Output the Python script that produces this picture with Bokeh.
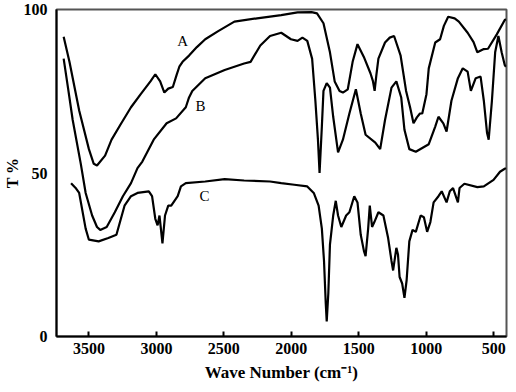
from bokeh.plotting import figure
from bokeh.models import Range1d, FixedTicker
from bokeh.embed import file_html
from bokeh.resources import INLINE
from bokeh.core.properties import value

# Curve A
a_wn = [3687, 3644, 3572, 3500, 3464, 3440, 3380, 3332, 3260, 3188, 3116, 3044, 3008,
        2972, 2941, 2912, 2878, 2850, 2830, 2806, 2758, 2700, 2638, 2542, 2422, 2254,
        2075, 1954, 1850, 1810, 1762, 1714, 1679, 1643, 1618, 1582, 1546, 1510, 1463,
        1414, 1395, 1383, 1370, 1355, 1306, 1271, 1239, 1191, 1150, 1120, 1095, 1070,
        1047, 1030, 999, 982, 934, 898, 870, 838, 790, 759, 694, 650, 622, 574, 543,
        478, 419, 410]
a_t = [91.7, 84.0, 69.1, 57.3, 52.8, 52.3, 55.3, 60.2, 65.2, 70.1, 74.1, 78.0, 80.2,
       78.0, 74.6, 75.8, 76.3, 80.0, 82.5, 84.0, 85.9, 88.5, 90.9, 93.4, 96.3, 97.3,
       98.3, 99.1, 99.2, 98.8, 95.8, 86.9, 78.0, 75.1, 74.6, 75.6, 84.0, 89.4, 85.5,
       80.5, 78.0, 75.1, 80.0, 85.0, 89.9, 91.4, 91.9, 86.0, 75.1, 70.0, 65.2, 67.0,
       68.2, 68.2, 74.1, 82.0, 89.9, 90.9, 95.0, 97.8, 97.3, 96.3, 92.9, 90.0, 86.9,
       87.9, 88.0, 92.4, 96.8, 97.0]

# Curve B
b_wn = [3687, 3655, 3620, 3560, 3524, 3476, 3440, 3416, 3368, 3308, 3248, 3188, 3140,
        3104, 3020, 2924, 2854, 2782, 2758, 2734, 2638, 2494, 2350, 2302, 2230, 2158,
        2075, 2003, 1954, 1918, 1882, 1846, 1822, 1803, 1791, 1774, 1762, 1738, 1714,
        1690, 1654, 1618, 1570, 1522, 1486, 1450, 1378, 1342, 1306, 1258, 1222, 1186,
        1162, 1126, 1078, 982, 934, 910, 874, 850, 814, 766, 730, 694, 670, 634, 598,
        574, 550, 538, 514, 490, 466, 442, 419, 410]
b_t = [85.0, 76.1, 66.2, 52.8, 43.9, 37.0, 33.5, 32.6, 33.5, 38.0, 42.9, 46.9, 51.5,
       53.5, 60.2, 65.2, 66.7, 70.1, 73.1, 75.1, 79.0, 81.5, 83.5, 84.0, 89.0, 91.9,
       92.9, 90.9, 90.4, 91.4, 90.4, 84.9, 72.1, 60.2, 50.0, 64.2, 75.1, 77.5, 76.1,
       67.2, 56.3, 60.2, 68.2, 75.6, 68.2, 61.7, 59.3, 57.3, 66.2, 76.1, 78.0, 73.1,
       63.2, 57.3, 56.5, 58.8, 64.2, 67.2, 65.2, 62.7, 72.1, 79.0, 82.0, 81.0, 75.1,
       79.0, 79.5, 72.1, 62.2, 60.2, 72.1, 86.9, 91.9, 86.9, 83.0, 82.5]

# Curve C
c_wn = [3632, 3600, 3572, 3524, 3500, 3428, 3356, 3296, 3236, 3188, 3140, 3056, 3032,
        3008, 2991, 2977, 2955, 2936, 2912, 2890, 2866, 2842, 2818, 2782, 2638, 2494,
        2350, 2158, 2075, 1978, 1882, 1834, 1798, 1774, 1758, 1745, 1738, 1726, 1714,
        1690, 1671, 1654, 1630, 1594, 1570, 1534, 1510, 1486, 1462, 1450, 1431, 1419,
        1402, 1385, 1355, 1318, 1283, 1258, 1246, 1222, 1210, 1198, 1179, 1162, 1146,
        1126, 1102, 1078, 1042, 1018, 994, 970, 946, 910, 886, 850, 826, 802, 766, 754,
        718, 622, 574, 502, 454, 419, 410]
c_t = [46.9, 45.5, 43.9, 33.0, 29.6, 29.1, 30.1, 31.1, 40.0, 42.9, 43.9, 44.4, 42.9,
       36.0, 34.0, 37.0, 28.5, 37.0, 40.0, 40.0, 41.5, 42.9, 45.9, 46.9, 47.4, 48.1,
       47.7, 47.4, 46.9, 46.4, 45.9, 43.9, 40.0, 33.0, 23.1, 10.0, 4.6, 13.3, 28.1,
       37.0, 41.5, 37.0, 33.5, 37.0, 38.0, 42.9, 41.0, 31.1, 26.1, 24.6, 33.0, 40.0,
       33.5, 35.0, 38.0, 37.0, 30.1, 23.1, 20.2, 27.1, 25.1, 18.2, 16.2, 11.8, 17.2,
       29.1, 32.6, 32.0, 37.0, 36.5, 32.0, 35.0, 41.0, 42.9, 44.4, 41.0, 44.4, 45.4,
       41.0, 45.4, 46.7, 45.7, 45.9, 47.9, 50.4, 51.3, 51.5]

label_text = ["A", "B", "C"]
label_wn = [2806, 2674, 2643]
label_t = [90.4, 70.6, 42.9]

x_ticks = [3500, 3000, 2500, 2000, 1500, 1000, 500]
y_ticks = [0, 50, 100]

FONT = "Liberation Serif"

p = figure(width=508, height=384, output_backend="svg", toolbar_location=None,
           x_range=Range1d(3740, 406), y_range=Range1d(0, 100),
           min_border_left=30, min_border_right=2, min_border_top=9,
           min_border_bottom=0)
p.background_fill_color = "white"
p.border_fill_color = "white"
p.grid.visible = False
p.outline_line_color = "#555555"
p.outline_line_width = 2

for xs, ys in [(a_wn, a_t), (b_wn, b_t), (c_wn, c_t)]:
    p.line(xs, ys, line_color="black", line_width=2.2)

p.text(x=label_wn, y=label_t, text=label_text, text_font=value(FONT),
       text_font_size="15px", text_align="center", text_baseline="middle",
       text_color="black")

p.xaxis.ticker = FixedTicker(ticks=x_ticks)
p.yaxis.ticker = FixedTicker(ticks=y_ticks)
for ax in (p.xaxis, p.yaxis):
    ax.axis_line_color = "black"
    ax.axis_line_width = 2
    ax.minor_tick_line_color = None
    ax.major_label_text_font = FONT
    ax.major_label_text_font_style = "bold"
    ax.major_label_text_font_size = "16px"
    ax.major_label_text_color = "black"
    ax.axis_label_text_font = FONT
    ax.axis_label_text_font_style = "bold"
    ax.axis_label_text_font_size = "17px"
    ax.axis_label_text_color = "black"

p.xaxis.major_tick_in = 5
p.xaxis.major_tick_out = 0
p.xaxis.major_tick_line_width = 2
p.xaxis.major_tick_line_color = "black"
p.xaxis.major_label_standoff = 6
p.xaxis.axis_label = "Wave Number (cm\u207b\u00b9)"
p.xaxis.axis_label_standoff = 6

p.yaxis.major_tick_line_color = None
p.yaxis.major_label_standoff = 3
p.yaxis.axis_label = "T %"
p.yaxis.axis_label_standoff = 0
p.yaxis.axis_label_text_font_size = "16px"

open("out.html", "w").write(file_html(p, INLINE))
